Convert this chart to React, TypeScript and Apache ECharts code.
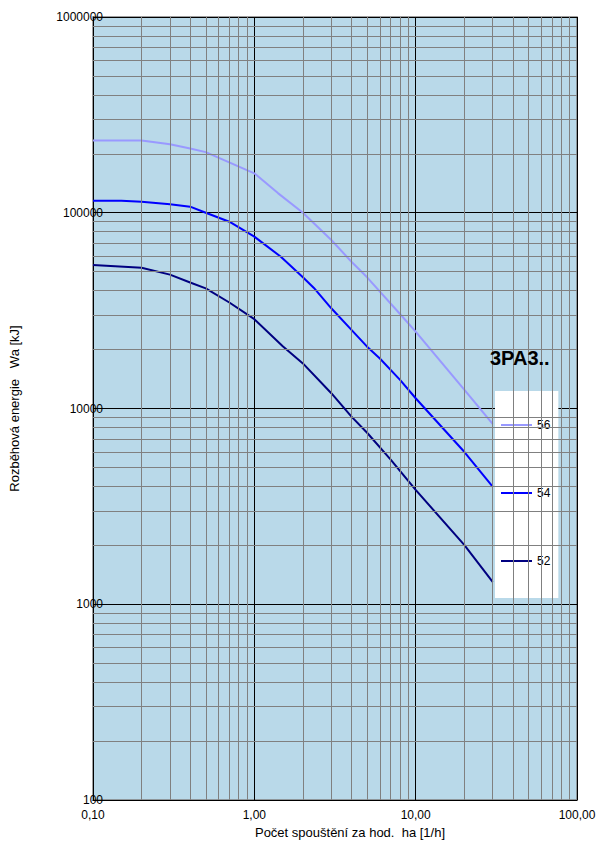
import React, { useEffect, useRef } from "react";
import * as echarts from "echarts";

const seriesNames = ["56", "54", "52"];
const seriesColors = ["#9999FF", "#0000FF", "#000080"];

const x56 = [0.1, 0.2, 0.3, 0.4, 0.5, 1, 1.4, 2, 3, 4, 5, 8, 10, 20, 30];
const y56 = [234000, 234000, 224000, 213000, 204000, 159000, 126000, 100000, 72600, 56200, 46800, 30400, 24700, 12500, 8340];

const x54 = [0.1, 0.15, 0.2, 0.3, 0.4, 0.5, 0.7, 1, 1.46, 2, 2.34, 3, 4, 5, 6, 8, 10, 20, 30];
const y54 = [115000, 115000, 113800, 110400, 107400, 100000, 90000, 75500, 59600, 46800, 41300, 32500, 25200, 20700, 18000, 14000, 11280, 6010, 3990];

const x52 = [0.1, 0.2, 0.3, 0.4, 0.5, 0.7, 1, 1.5, 2, 3, 4, 5, 7, 10, 20, 30];
const y52 = [54100, 52400, 48300, 44000, 41100, 34800, 28600, 20800, 17000, 11970, 9090, 7520, 5480, 3840, 2010, 1300];

const xMinorGrid = [0.2, 0.3, 0.4, 0.5, 0.6, 0.7, 0.8, 0.9, 2, 3, 4, 5, 6, 7, 8, 9, 20, 30, 40, 50, 60, 70, 80, 90];
const yMinorGrid = [
  200, 300, 400, 500, 600, 700, 800, 900,
  2000, 3000, 4000, 5000, 6000, 7000, 8000, 9000,
  20000, 30000, 40000, 50000, 60000, 70000, 80000, 90000,
  200000, 300000, 400000, 500000, 600000, 700000, 800000, 900000,
];

const legendTitle = "3PA3..";
const xTitle = "Počet spouštění za hod.  ha [1/h]";
const yTitle = "Rozběhová energie   Wa [kJ]";

const FONT = "Arial, 'Liberation Sans', sans-serif";

export default function App() {
  const ref = useRef<HTMLDivElement>(null);
  useEffect(() => {
    if (!ref.current) return;
    const chart = echarts.init(ref.current, null, { renderer: "svg" });
    const zip = (xs: number[], ys: number[]) => xs.map((x, i) => [x, ys[i]]);
    const datasets = [zip(x56, y56), zip(x54, y54), zip(x52, y52)];

    chart.setOption({
      animation: false,
      backgroundColor: "#ffffff",
      textStyle: { fontFamily: FONT },
      title: {
        text: legendTitle,
        left: 490,
        top: 348,
        padding: 0,
        textStyle: { fontFamily: FONT, fontSize: 20, fontWeight: "bold", color: "#000" },
      },
      grid: {
        left: 92,
        right: 29,
        top: 17,
        bottom: 45,
        show: true,
        backgroundColor: "#B9D9E9",
        borderColor: "#808080",
        borderWidth: 1.5,
      },
      legend: {
        orient: "vertical",
        left: 495,
        top: 391,
        backgroundColor: "#ffffff",
        padding: [28, 8, 31, 6],
        itemGap: 56,
        itemWidth: 31,
        itemHeight: 2,
        icon: "rect",
        data: seriesNames,
        textStyle: { fontFamily: FONT, fontSize: 12, color: "#000" },
      },
      xAxis: {
        type: "log",
        logBase: 10,
        min: 0.1,
        max: 100,
        name: xTitle,
        nameLocation: "middle",
        nameGap: 26,
        nameTextStyle: { fontFamily: FONT, fontSize: 13, color: "#000", padding: [0, 0, 0, 30] },
        axisLine: { show: true, lineStyle: { color: "#000", width: 1 } },
        axisTick: { show: false },
        axisLabel: {
          fontFamily: FONT,
          fontSize: 12,
          color: "#000",
          margin: 9,
          formatter: (v: number) => v.toFixed(2).replace(".", ","),
        },
        splitLine: { show: true, lineStyle: { color: "#000", width: 1 } },
      },
      yAxis: {
        type: "log",
        logBase: 10,
        min: 100,
        max: 1000000,
        name: yTitle,
        nameLocation: "middle",
        nameGap: 72,
        nameRotate: 90,
        nameTextStyle: { fontFamily: FONT, fontSize: 13, color: "#000" },
        axisLine: { show: true, lineStyle: { color: "#000", width: 1 } },
        axisTick: { show: false },
        axisLabel: {
          fontFamily: FONT,
          fontSize: 12,
          color: "#000",
          margin: -10,
          formatter: (v: number) => String(Math.round(v)),
        },
        splitLine: { show: true, lineStyle: { color: "#000", width: 1 } },
      },
      series: [
        {
          type: "line",
          name: "__grid",
          data: [[0.1, 100]],
          showSymbol: false,
          symbol: "none",
          silent: true,
          z: 1,
          lineStyle: { opacity: 0 },
          markLine: {
            silent: true,
            symbol: "none",
            label: { show: false },
            animation: false,
            lineStyle: { color: "#808080", width: 1, type: "solid" },
            data: [
              ...xMinorGrid.map((v) => ({ xAxis: v })),
              ...yMinorGrid.map((v) => ({ yAxis: v })),
            ],
          },
        },
        ...seriesNames.map((name, i) => ({
          type: "line",
          name,
          data: datasets[i],
          showSymbol: false,
          symbol: "none",
          z: 3,
          lineStyle: { color: seriesColors[i], width: 2 },
          itemStyle: { color: seriesColors[i] },
        })),
      ],
    });
    return () => chart.dispose();
  }, []);
  return (
    <div
      ref={ref}
      style={{ position: "absolute", left: 0, top: 0, width: 606, height: 845 }}
    />
  );
}
